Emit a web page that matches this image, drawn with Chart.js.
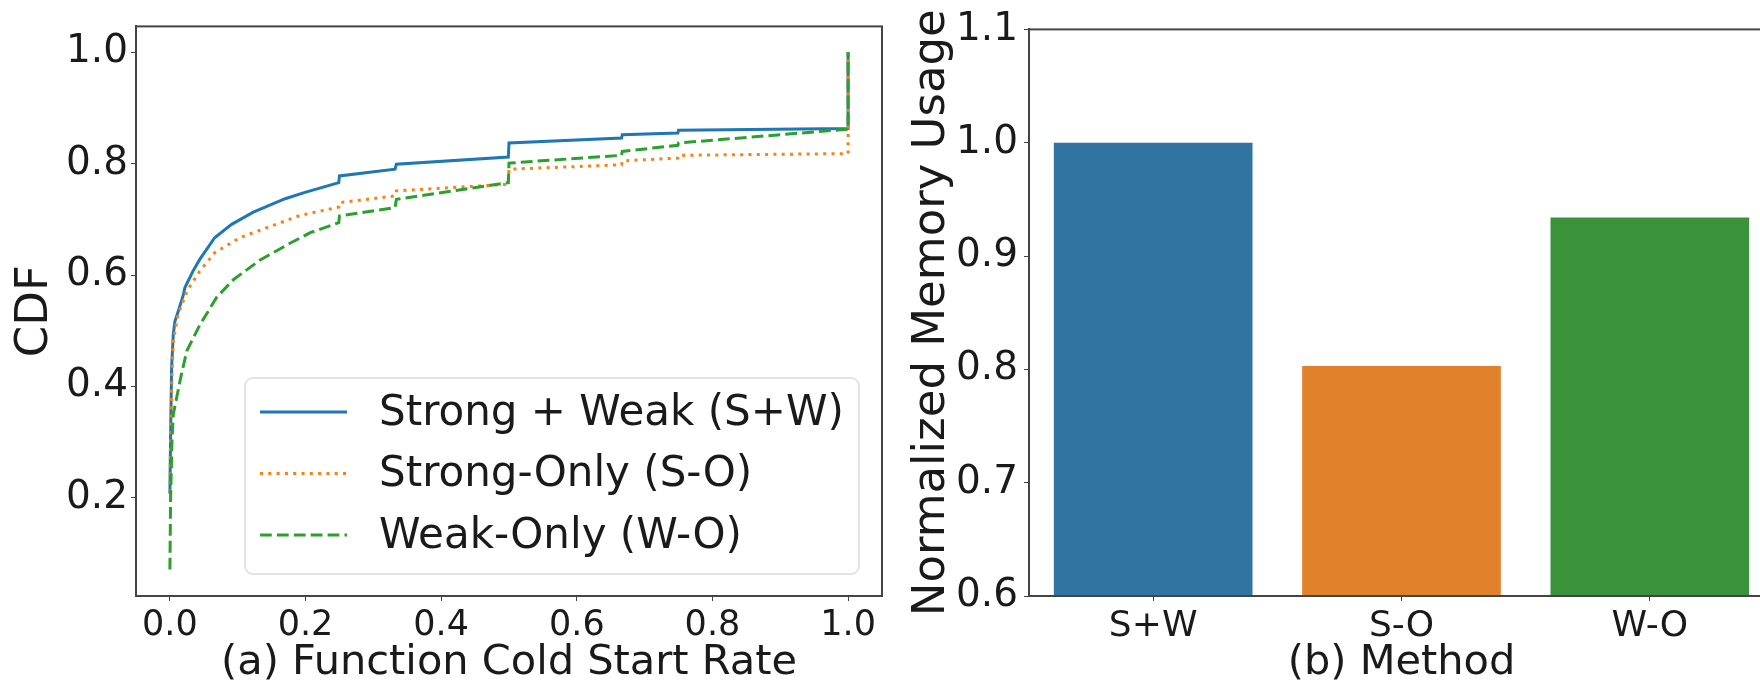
<!DOCTYPE html>
<html>
<head>
<meta charset="utf-8">
<script src="https://cdn.jsdelivr.net/npm/chart.js@4.4.1/dist/chart.umd.min.js"></script>
<style>
  html, body { margin: 0; padding: 0; background: #fff; overflow: hidden; }
  body { width: 1760px; height: 684px; position: relative; }
  canvas { position: absolute; top: 0; }
  #cdf { left: 0; }
  #mem { left: 900px; }
</style>
</head>
<body>
<canvas id="cdf" width="900" height="684"></canvas>
<canvas id="mem" width="900" height="684"></canvas>
<script>
// (a) CDF of function cold start rate
const swX = [0, 0.001, 0.0025, 0.005, 0.0074, 0.011, 0.020, 0.022, 0.034, 0.044, 0.066, 0.091, 0.123, 0.170, 0.198, 0.249, 0.25, 0.332, 0.334, 0.499, 0.5, 0.666, 0.667, 0.749, 0.75, 1.0, 1.0];
const swY = [0.207, 0.314, 0.434, 0.494, 0.517, 0.530, 0.565, 0.577, 0.607, 0.628, 0.667, 0.691, 0.713, 0.737, 0.748, 0.766, 0.778, 0.790, 0.799, 0.812, 0.837, 0.846, 0.852, 0.855, 0.860, 0.863, 1.0];

const soX = [0, 0.001, 0.0025, 0.005, 0.012, 0.025, 0.044, 0.066, 0.103, 0.143, 0.192, 0.249, 0.25, 0.332, 0.334, 0.499, 0.5, 0.666, 0.667, 0.749, 0.75, 1.0, 1.0];
const soY = [0.21, 0.30, 0.40, 0.482, 0.529, 0.571, 0.607, 0.640, 0.667, 0.685, 0.707, 0.722, 0.730, 0.742, 0.751, 0.763, 0.790, 0.798, 0.805, 0.810, 0.815, 0.818, 1.0];

const woX = [0, 0.001, 0.003, 0.005, 0.010, 0.017, 0.025, 0.044, 0.069, 0.094, 0.133, 0.177, 0.207, 0.249, 0.25, 0.332, 0.334, 0.499, 0.5, 0.666, 0.667, 0.749, 0.75, 1.0, 1.0];
const woY = [0.071, 0.20, 0.30, 0.350, 0.380, 0.422, 0.464, 0.510, 0.560, 0.592, 0.627, 0.657, 0.676, 0.694, 0.706, 0.721, 0.736, 0.766, 0.801, 0.815, 0.822, 0.833, 0.837, 0.862, 1.0];

const seriesNames = ['Strong + Weak (S+W)', 'Strong-Only (S-O)', 'Weak-Only (W-O)'];
const cdfXTicks = [0, 0.2, 0.4, 0.6, 0.8, 1.0];
const cdfYTicks = [0.2, 0.4, 0.6, 0.8, 1.0];

// (b) normalized memory usage
const methods = ['S+W', 'S-O', 'W-O'];
const memUsage = [1.0, 0.803, 0.934];
const memYTicks = [0.6, 0.7, 0.8, 0.9, 1.0, 1.1];

const FONT = 'DejaVu Sans';
const INK = '#1a1a1a';

function pts(xs, ys) {
  return xs.map((x, i) => ({ x: x, y: ys[i] }));
}

// matplotlib-like box round the plot area
const frame = {
  id: 'frame',
  afterDatasetsDraw(chart) {
    const a = chart.chartArea, ctx = chart.ctx;
    ctx.save();
    ctx.strokeStyle = '#444';
    ctx.lineWidth = 2;
    ctx.strokeRect(a.left, a.top, a.right - a.left, a.bottom - a.top);
    ctx.restore();
  }
};

// legend drawn inside the plot, bottom right
const boxLegend = {
  id: 'boxLegend',
  afterDraw(chart) {
    const ctx = chart.ctx;
    const x0 = 245, y0 = 378, x1 = 859, y1 = 574;
    ctx.save();
    ctx.beginPath();
    ctx.roundRect(x0, y0, x1 - x0, y1 - y0, 8);
    ctx.fillStyle = 'rgba(255,255,255,0.8)';
    ctx.fill();
    ctx.strokeStyle = '#dcdcdc';
    ctx.lineWidth = 1.5;
    ctx.stroke();
    chart.data.datasets.forEach((ds, i) => {
      const y = 412 + i * 61.5;
      ctx.beginPath();
      ctx.setLineDash(ds.borderDash || []);
      ctx.strokeStyle = ds.borderColor;
      ctx.lineWidth = ds.borderWidth;
      ctx.moveTo(260, y);
      ctx.lineTo(347, y);
      ctx.stroke();
      ctx.setLineDash([]);
      ctx.fillStyle = INK;
      ctx.font = '42px "' + FONT + '"';
      ctx.textBaseline = 'middle';
      ctx.fillText(ds.label, 379, y + 2);
    });
    ctx.restore();
  }
};

function fixTicks(values) {
  return scale => { scale.ticks = values.map(v => ({ value: v })); };
}

new Chart(document.getElementById('cdf'), {
  type: 'line',
  data: {
    datasets: [
      { label: seriesNames[0], data: pts(swX, swY), borderColor: '#1f77b4', borderWidth: 3, order: 3 },
      { label: seriesNames[1], data: pts(soX, soY), borderColor: '#ff7f0e', borderWidth: 3, borderDash: [3, 5.3], order: 2 },
      { label: seriesNames[2], data: pts(woX, woY), borderColor: '#2ca02c', borderWidth: 3, borderDash: [11.8, 5.1], order: 1 }
    ]
  },
  options: {
    responsive: false,
    animation: false,
    layout: { padding: { top: 25, right: 18, left: 0, bottom: 0 } },
    elements: { point: { radius: 0 }, line: { tension: 0, fill: false } },
    plugins: { legend: { display: false }, tooltip: { enabled: false } },
    scales: {
      x: {
        type: 'linear', min: -0.05, max: 1.05,
        afterBuildTicks: fixTicks(cdfXTicks),
        afterFit: s => { s.height = 88; },
        grid: { drawOnChartArea: false, tickLength: 5, color: '#444' },
        border: { color: '#444', width: 2 },
        ticks: { color: INK, padding: 4, font: { family: FONT, size: 35 }, callback: v => v.toFixed(1) },
        title: { display: true, text: '(a) Function Cold Start Rate', color: INK, padding: 0, font: { family: FONT, size: 41.5, lineHeight: 1.0 } }
      },
      y: {
        type: 'linear', min: 0.0235, max: 1.0465,
        afterBuildTicks: fixTicks(cdfYTicks),
        afterFit: s => { s.width = 136; },
        grid: { drawOnChartArea: false, tickLength: 5, color: '#444' },
        border: { color: '#444', width: 2 },
        ticks: { color: INK, padding: 3, font: { family: FONT, size: 39 }, callback: v => v.toFixed(1) },
        title: { display: true, text: 'CDF', color: INK, padding: { top: 8, bottom: 0 }, font: { family: FONT, size: 45 } }
      }
    }
  },
  plugins: [frame, boxLegend]
});

new Chart(document.getElementById('mem'), {
  type: 'bar',
  data: {
    labels: methods,
    datasets: [{
      data: memUsage,
      backgroundColor: ['#3274a1', '#e1812c', '#3a923a'],
      barPercentage: 0.8,
      categoryPercentage: 1.0
    }]
  },
  options: {
    responsive: false,
    animation: false,
    layout: { padding: { top: 25, right: 26, left: 0, bottom: 0 } },
    plugins: { legend: { display: false }, tooltip: { enabled: false } },
    scales: {
      x: {
        afterFit: s => { s.height = 88; },
        grid: { drawOnChartArea: false, offset: false, tickLength: 5, color: '#444' },
        border: { color: '#444', width: 2 },
        ticks: { color: INK, padding: 4, font: { family: FONT, size: 36 } },
        title: { display: true, text: '(b) Method', color: INK, padding: 0, font: { family: FONT, size: 41.5, lineHeight: 1.0 } }
      },
      y: {
        type: 'linear', min: 0.6, max: 1.1,
        afterBuildTicks: fixTicks(memYTicks),
        afterFit: s => { s.width = 129; },
        grid: { drawOnChartArea: false, tickLength: 5, color: '#444' },
        border: { color: '#444', width: 2 },
        ticks: { color: INK, padding: 6, font: { family: FONT, size: 39 }, callback: v => v.toFixed(1) },
        title: { display: true, text: 'Normalized Memory Usage', color: INK, padding: { top: 5, bottom: 0 }, font: { family: FONT, size: 45 } }
      }
    }
  },
  plugins: [frame]
});
</script>
</body>
</html>
